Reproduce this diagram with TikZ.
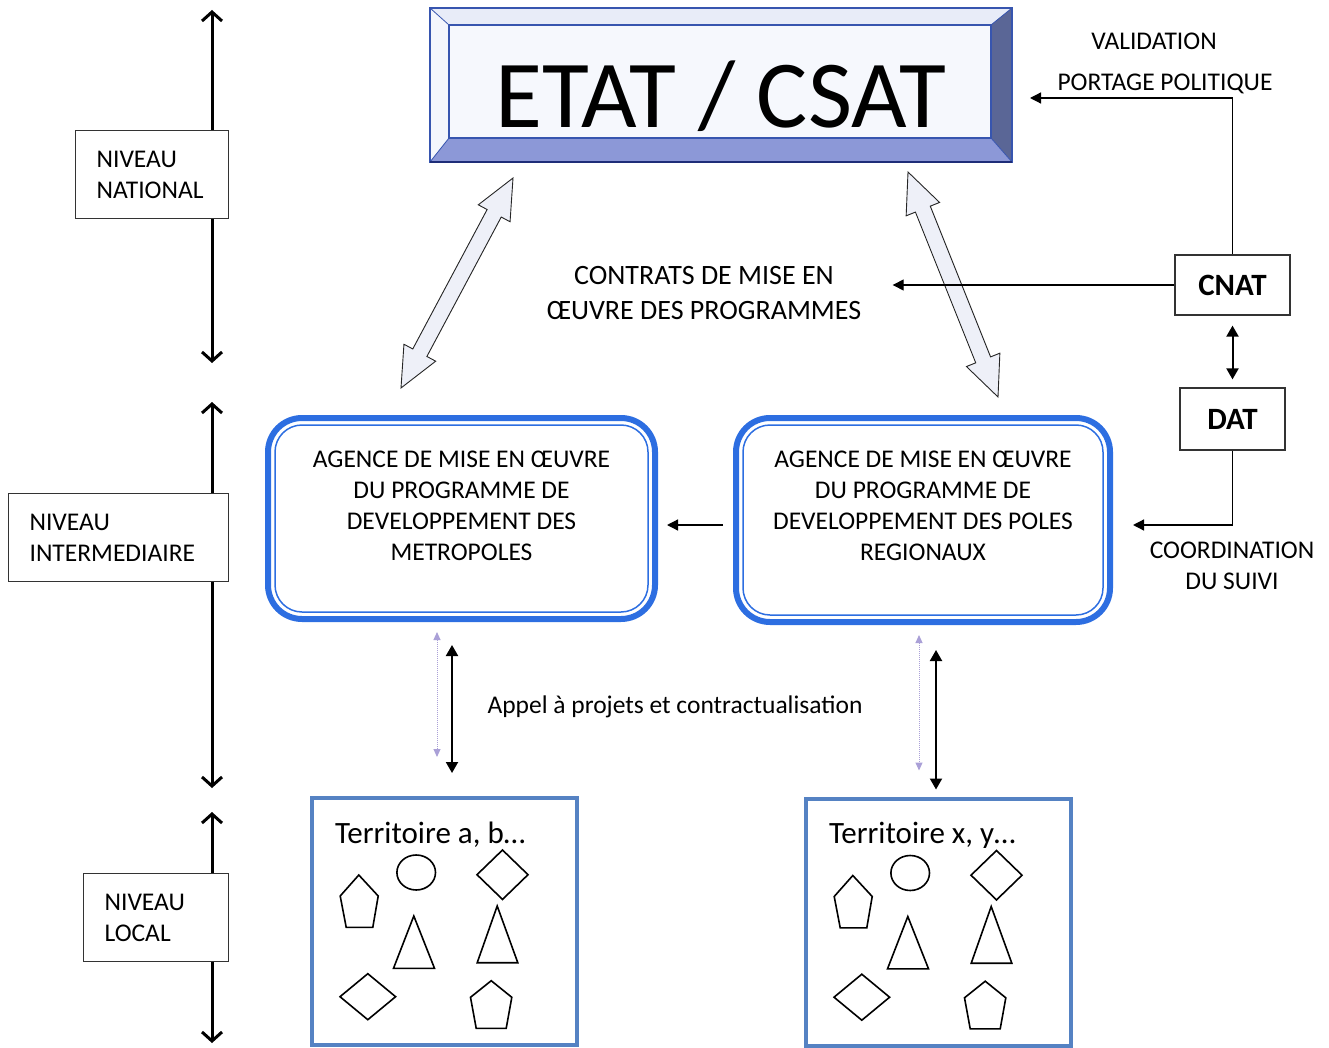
\documentclass[tikz,border=0pt]{standalone}
\usepackage{fontspec}
\setmainfont{Carlito}
\usetikzlibrary{arrows.meta,calc,positioning}

\definecolor{agblue}{RGB}{45,110,225}
\definecolor{terblue}{RGB}{85,130,195}
\definecolor{etatline}{RGB}{55,85,175}
\definecolor{etatnavy}{RGB}{30,45,120}
\definecolor{bevtop}{RGB}{232,236,248}
\definecolor{bevleft}{RGB}{244,246,252}
\definecolor{bevright}{RGB}{90,102,150}
\definecolor{bevbot}{RGB}{140,152,215}
\definecolor{etatface}{RGB}{246,248,253}
\definecolor{lavender}{RGB}{170,160,215}
\definecolor{hollowfill}{RGB}{238,240,248}

% hollow double arrow between two points
\def\hollowarrow#1#2{%
  \filldraw[hollow] (#1)
    -- ($(#1)!40pt!(#2)!18pt!90:(#2)$)
    -- ($(#1)!40pt!(#2)!8pt!90:(#2)$)
    -- ($(#2)!40pt!(#1)!8pt!-90:(#1)$)
    -- ($(#2)!40pt!(#1)!18pt!-90:(#1)$)
    -- (#2)
    -- ($(#2)!40pt!(#1)!18pt!90:(#1)$)
    -- ($(#2)!40pt!(#1)!8pt!90:(#1)$)
    -- ($(#1)!40pt!(#2)!8pt!-90:(#2)$)
    -- ($(#1)!40pt!(#2)!18pt!-90:(#2)$)
    -- cycle;}

% the little shapes inside a territory box
\def\terrshapes{%
  \draw[shp] (104.7,74.5) ellipse [x radius=19.3, y radius=17.5];
  \draw[shp] (165.5,76.7) -- (191,52) -- (216.5,76.7) -- (191,101.4) -- cycle;
  \draw[shp] (47.3,77) -- (66.7,98) -- (61.3,129.3) -- (34.7,129.3) -- (28.7,98) -- cycle;
  \draw[shp] (102.3,118) -- (123,170.3) -- (82,170.3) -- cycle;
  \draw[shp] (185.7,108) -- (206.3,164.7) -- (165.7,164.7) -- cycle;
  \draw[shp] (28.5,198.7) -- (56.3,175.7) -- (84.1,198.7) -- (56.3,221.7) -- cycle;
  \draw[shp] (179.7,182.7) -- (200.3,199.3) -- (194.7,230.3) -- (164.7,230.3) -- (159,199.3) -- cycle;}

\begin{document}
\begin{tikzpicture}[x=1pt,y=-1pt,
    every node/.style={font=\fontsize{25.5}{31}\selectfont},
    level/.style={draw=black!80,line width=1.2pt,fill=white,anchor=north west,
        minimum height=88pt,inner xsep=21pt,align=left,
        font=\fontsize{25.5}{31}\selectfont},
    levelarrow/.style={line width=3pt,
        {Straight Barb[length=9pt,width=20pt]}-{Straight Barb[length=9pt,width=20pt]}},
    agency/.style={draw=agblue,line width=6pt,rounded corners=34pt,outer sep=0pt},
    terr/.style={draw=terblue,line width=4pt,minimum width=265pt,minimum height=247pt,outer sep=0pt},
    council/.style={draw=black!80,line width=1.2pt,font=\fontsize{31}{31}\selectfont\bfseries},
    link/.style={line width=1.3pt,-{Triangle[length=11pt,width=11pt]}},
    twoway/.style={line width=2pt,{Triangle[length=11pt,width=12pt]}-{Triangle[length=11pt,width=12pt]}},
    faint/.style={lavender,line width=1pt,densely dotted,
        {Triangle[length=8pt,width=7pt]}-{Triangle[length=8pt,width=7pt]}},
    hollow/.style={fill=hollowfill,draw=black!85,line width=0.9pt},
    shp/.style={line width=1.6pt}]

\useasboundingbox (0,0) rectangle (1329,1048);

% levels on the left
\coordinate (nattop) at (212,10);
\coordinate (natbot) at (212,363);
\coordinate (midtop) at (212,402);
\coordinate (midbot) at (212,788);
\coordinate (loctop) at (212,812);
\coordinate (locbot) at (212,1043);
\draw[levelarrow] (nattop) -- (natbot);
\draw[levelarrow] (midtop) -- (midbot);
\draw[levelarrow] (loctop) -- (locbot);
\node[level,minimum width=153pt,text width=111pt] (national) at (75,130) {NIVEAU\\NATIONAL};
\node[level,minimum width=220pt,text width=178pt] (intermed) at (8,493) {NIVEAU\\INTERMEDIAIRE};
\node[level,minimum width=145pt,text width=103pt] (local) at (83,873) {NIVEAU\\LOCAL};

% ETAT / CSAT bevelled box
\node[minimum width=582pt,minimum height=154pt,outer sep=0pt] (frame) at (721,85) {};
\node[minimum width=542pt,minimum height=113pt,outer sep=0pt] (etat) at (720,81.5) {};
\fill[bevtop] (frame.north west) -- (frame.north east) -- (etat.north east) -- (etat.north west) -- cycle;
\fill[bevleft] (frame.north west) -- (etat.north west) -- (etat.south west) -- (frame.south west) -- cycle;
\fill[bevright] (frame.north east) -- (frame.south east) -- (etat.south east) -- (etat.north east) -- cycle;
\fill[bevbot] (frame.south west) -- (frame.south east) -- (etat.south east) -- (etat.south west) -- cycle;
\draw[etatline,line width=0.8pt] (frame.north west) -- (etat.north west) (frame.north east) -- (etat.north east)
    (frame.south west) -- (etat.south west) (frame.south east) -- (etat.south east);
\draw[etatline,line width=1.5pt] (frame.north west) rectangle (frame.south east);
\draw[etatnavy,line width=2.5pt] (frame.south west) -- (frame.south east);
\draw[etatline,line width=1.8pt,fill=etatface] (etat.north west) rectangle (etat.south east);
\node[font=\fontsize{96}{96}\selectfont] (etattext) at (721,96) {ETAT / CSAT};

% agencies
\node[agency,minimum width=387pt,minimum height=201pt] (metro) at (461.5,518.5) {};
\node[agency,minimum width=374pt,minimum height=204pt] (poles) at (923,520) {};
\draw[agblue,line width=1.5pt,rounded corners=27pt] ($(metro.north west)+(7,7)$) rectangle ($(metro.south east)+(-7,-7)$);
\draw[agblue,line width=1.5pt,rounded corners=27pt] ($(poles.north west)+(7,7)$) rectangle ($(poles.south east)+(-7,-7)$);
\node[align=center] (metrotext) at ($(metro)+(0,-13)$) {AGENCE DE MISE EN ŒUVRE\\DU PROGRAMME DE\\DEVELOPPEMENT DES\\METROPOLES};
\node[align=center] (polestext) at ($(poles)+(0,-14.5)$) {AGENCE DE MISE EN ŒUVRE\\DU PROGRAMME DE\\DEVELOPPEMENT DES POLES\\REGIONAUX};
\draw[link,shorten <=13pt,shorten >=12pt] ($(poles.west)+(0,5)$) -- ($(metro.east)+(0,6.5)$);

% big hollow arrows
\coordinate (lefttail) at (401,388);
\coordinate (lefthead) at (513,178);
\coordinate (righthead) at (908,172);
\coordinate (righttail) at (998,397);
\hollowarrow{lefttail}{lefthead}
\hollowarrow{righthead}{righttail}

% CNAT and DAT
\node[council,minimum width=115pt,minimum height=60pt] (cnat) at (1232.5,285) {CNAT};
\node[council,minimum width=105pt,minimum height=62pt] (dat) at (1232.5,419) {DAT};
\draw[twoway,shorten <=10pt,shorten >=8pt] (cnat) -- (dat);
\draw[link] (cnat.north) |- ($(frame.east)+(18,13)$);
\node (valid) at (1154,41) {VALIDATION};
\node (portage) at (1165,84) {PORTAGE POLITIQUE};
\node[align=center,font=\fontsize{28}{35}\selectfont] (contrats) at (704,293) {CONTRATS DE MISE EN\\ŒUVRE DES PROGRAMMES};
\draw[link] (cnat.west) -- ($(contrats.east |- cnat.west)+(28,0)$);
\draw[link] (dat.south) |- ($(poles.east)+(23,5)$);
\node[align=center] (coord) at (1232,566) {COORDINATION\\DU SUIVI};

% territories
\node[terr] (terra) at (444,921.5) {};
\node[terr] (terrx) at (938,922) {};
\draw[faint,shorten <=13pt,shorten >=41pt] ([xshift=-24.5pt]metro.south) -- ([xshift=-24.5pt]metro.south |- terra.north);
\draw[twoway,shorten <=26pt,shorten >=25pt] ([xshift=-9.5pt]metro.south) -- ([xshift=-9.5pt]metro.south |- terra.north);
\draw[faint,shorten <=13pt,shorten >=28pt] ([xshift=-4pt]poles.south) -- ([xshift=-4pt]poles.south |- terrx.north);
\draw[twoway,shorten <=28pt,shorten >=9pt] ([xshift=13pt]poles.south) -- ([xshift=13pt]poles.south |- terrx.north);
\node (appel) at (675,707) {Appel à projets et contractualisation};
\node[anchor=west,font=\fontsize{31}{31}\selectfont] (terratext) at ($(terra.north west)+(20,37)$) {Territoire a, b…};
\node[anchor=west,font=\fontsize{31}{31}\selectfont] (terrxtext) at ($(terrx.north west)+(20,37)$) {Territoire x, y…};
\begin{scope}[shift={(terra.north west)}]
  \terrshapes
\end{scope}
\begin{scope}[shift={(terrx.north west)}]
  \terrshapes
\end{scope}
\end{tikzpicture}
\end{document}
